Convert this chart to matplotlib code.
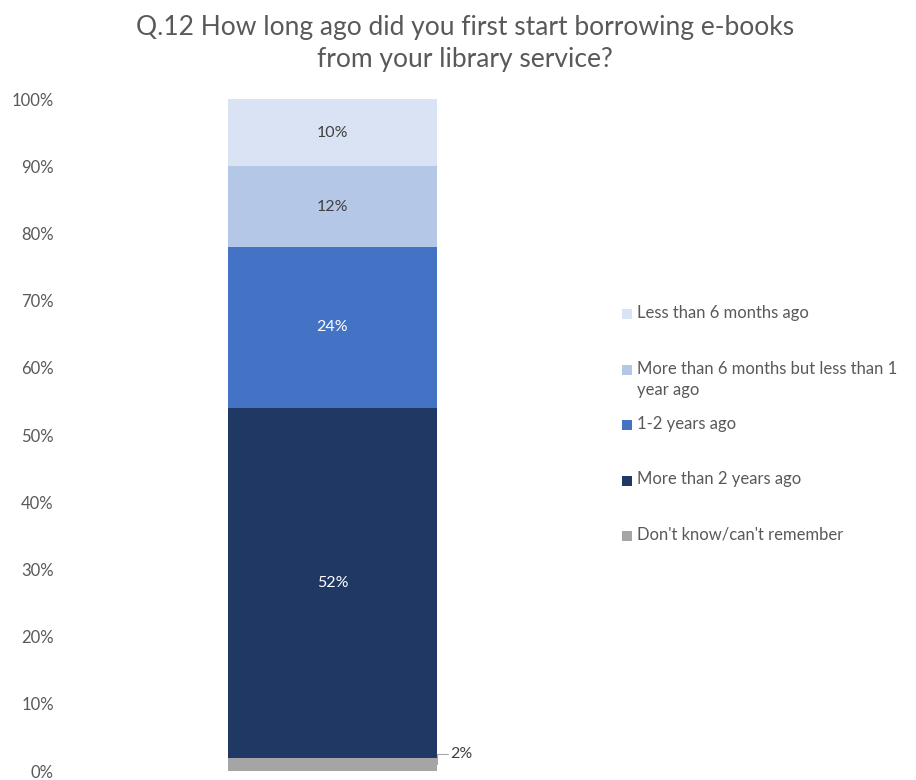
import matplotlib
matplotlib.use("Agg")
import matplotlib.pyplot as plt
from matplotlib.patches import Rectangle

plt.rcParams['font.family'] = ['Lato', 'DejaVu Sans']

title = "Q.12 How long ago did you first start borrowing e-books\nfrom your library service?"
categories = ["Don't know/can't remember", "More than 2 years ago", "1-2 years ago",
              "More than 6 months but less than 1\nyear ago", "Less than 6 months ago"]
values = [2, 52, 24, 12, 10]
colors = ["#A5A5A5", "#203864", "#4472C4", "#B4C7E7", "#DAE3F3"]
label_colors = [None, "white", "white", "#404040", "#404040"]
yticks = [0, 10, 20, 30, 40, 50, 60, 70, 80, 90, 100]

W, H = 916, 780
fig = plt.figure(figsize=(W / 100, H / 100), dpi=100)
ax = fig.add_axes([65 / W, 9 / H, 535 / W, 672 / H])

bar_w = 0.3925
bottom = 0
for v, c, lc in zip(values, colors, label_colors):
    ax.bar(0, v, bottom=bottom, width=bar_w, color=c, edgecolor='none')
    if lc is not None:
        ax.text(0, bottom + v / 2, f"{v}%", ha='center', va='center',
                color=lc, fontsize=11.5)
    bottom += v

# small segment labelled outside with a leader line
x_edge = bar_w / 2
small = values[0]
ax.annotate(f"{small}%", xy=(x_edge, small / 2), xytext=(x_edge + 0.024, small + 0.6),
            ha='left', va='center', fontsize=11.5, color='#404040',
            arrowprops=dict(arrowstyle='-', color='#A6A6A6', lw=0.8,
                            connectionstyle='angle,angleA=0,angleB=90,rad=0',
                            shrinkA=0, shrinkB=0))

ax.set_xlim(-0.5, 0.5)
ax.set_ylim(0, 100)
ax.set_yticks(yticks)
ax.set_yticklabels([f"{t}%" for t in yticks], color='#595959', fontsize=12)
ax.tick_params(axis='y', length=0, pad=8)
ax.set_xticks([])
for s in ax.spines.values():
    s.set_visible(False)

fig.text(465 / W, 1 - 43 / H, title, ha='center', va='center',
         fontsize=19, color='#595959', linespacing=1.35)

# legend, top entry first, evenly pitched rows
row0, pitch = 314, 55.5
sq = 10
for i, (lab, c) in enumerate(zip(categories[::-1], colors[::-1])):
    yc = row0 + pitch * i
    fig.patches.append(Rectangle((622 / W, 1 - (yc + sq / 2) / H), sq / W, sq / H,
                                 transform=fig.transFigure, facecolor=c,
                                 edgecolor='none'))
    fig.text(637 / W, 1 - (yc - 9) / H, lab, ha='left', va='top',
             fontsize=12, color='#595959', linespacing=1.45)

fig.savefig("out.png", dpi=100, facecolor='white')
